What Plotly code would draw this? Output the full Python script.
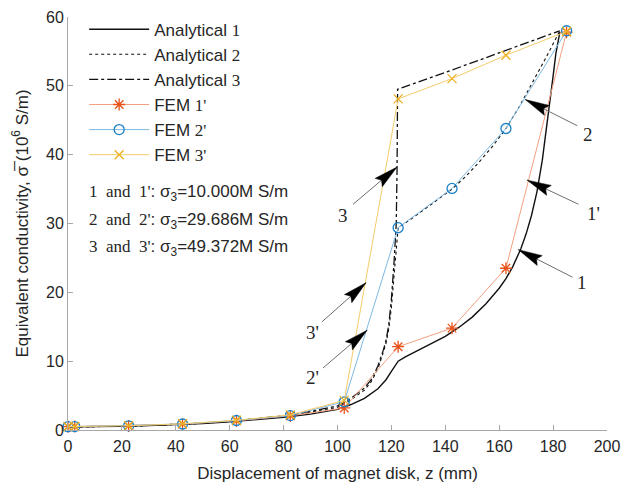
import math
import plotly.graph_objects as go

# ---------------- data ----------------
x_an1 = [0, 10, 20, 30, 40, 50, 60, 70, 80, 90, 95, 100, 105, 110, 115, 118, 120, 122.5,
         125, 130, 135, 140, 145, 150, 155, 160, 162.5, 165, 168, 170, 172, 174, 176, 178, 180, 181, 182, 182.5]
y_an1 = [0.45, 0.48, 0.55, 0.65, 0.78, 0.95, 1.2, 1.5, 1.85, 2.3, 2.6, 3.0, 3.7, 4.6, 6.0, 7.3, 8.5, 10.0,
         10.6, 11.6, 12.6, 13.6, 14.9, 16.4, 18.3, 20.6, 22.0, 23.7, 26.3, 28.5, 31.2, 34.6, 39.2, 45.0, 51.4, 54.6, 56.9, 57.8]

x_an2 = [0, 10, 20, 30, 40, 50, 60, 70, 80, 90, 100, 105, 110, 112.5, 115, 117, 118, 119, 120, 121, 122,
         122.5, 127.5, 132.5, 137.5, 142.5, 147.5, 152.5, 157.5, 162.5, 167.5, 172.5, 177.5, 182.5]
y_an2 = [0.45, 0.48, 0.55, 0.66, 0.8, 0.98, 1.25, 1.6, 2.0, 2.6, 3.3, 4.4, 5.8, 7.0, 8.9, 11.3, 12.6, 14.6, 17.8, 22.5, 27.5,
         29.4, 30.7, 32.1, 33.5, 35.0, 36.8, 38.9, 41.2, 43.8, 47.0, 50.5, 54.2, 58.0]

x_an3 = [0, 10, 20, 30, 40, 50, 60, 70, 80, 90, 100, 105, 110, 112.5, 115, 117, 118, 119, 120, 121, 121.8,
         122.1, 122.3, 142.5, 162.5, 182.5]
y_an3 = [0.45, 0.48, 0.56, 0.67, 0.82, 1.0, 1.28, 1.63, 2.05, 2.7, 3.5, 4.6, 6.1, 7.3, 9.3, 11.6, 13.0, 15.2, 19.0, 24.5, 30.0,
         38.0, 49.5, 52.3, 55.2, 58.0]

x_fem = [0, 2.5, 22.5, 42.5, 62.5, 82.5, 102.5, 122.5, 142.5, 162.5, 185]
y_fem1 = [0.48, 0.5, 0.58, 0.85, 1.35, 2.05, 3.2, 12.1, 14.8, 23.5, 57.8]
y_fem2 = [0.48, 0.5, 0.6, 0.87, 1.38, 2.1, 4.1, 29.4, 35.1, 43.8, 58.0]
y_fem3 = [0.5, 0.52, 0.62, 0.9, 1.42, 2.2, 4.3, 48.1, 51.05, 54.45, 57.9]

x_ticks = [0, 20, 40, 60, 80, 100, 120, 140, 160, 180, 200]
y_ticks = [0, 10, 20, 30, 40, 50, 60]

arrow_labels = ["1", "1'", "2", "2'", "3", "3'"]
arrow_tail = [(187.2, 22.2), (189.4, 32.8), (189.0, 44.2), (94.6, 9.0), (105.8, 32.8), (94.2, 15.7)]
arrow_tip = [(167.1, 26.2), (170.4, 36.3), (169.7, 48.0), (111.0, 14.5), (122.1, 38.2), (110.6, 21.4)]
label_pos = [(190.9, 21.4), (195.0, 31.5), (192.8, 42.9), (90.9, 7.6), (102.0, 31.1), (90.9, 14.1)]

case_labels = ["1\u00a0\u00a0and\u00a0\u00a01'", "2\u00a0\u00a0and\u00a0\u00a02'", "3\u00a0\u00a0and\u00a0\u00a03'"]
case_sigma = ["10.000", "29.686", "49.372"]

# ---------------- style ----------------
W, H = 633, 483
ML, MR, MT, MB = 68, 26, 17, 53
SANS = "Liberation Sans, Arial, sans-serif"
SERIF = "Liberation Serif, Times New Roman, serif"
TXT = "#262626"
AX = "#a8a8a8"


def serif(s):
    return f"<span style='font-family:{SERIF}'>{s}</span>"


fig = go.Figure()
fig.add_trace(go.Scatter(x=x_an1, y=y_an1, mode="lines", name="Analytical " + serif("1"),
                         line=dict(color="#111111", width=1.4)))
fig.add_trace(go.Scatter(x=x_an2, y=y_an2, mode="lines", name="Analytical " + serif("2"),
                         line=dict(color="#111111", width=1.1, dash="dot")))
fig.add_trace(go.Scatter(x=x_an3, y=y_an3, mode="lines", name="Analytical " + serif("3"),
                         line=dict(color="#111111", width=1.3, dash="dashdot")))
fig.add_trace(go.Scatter(x=x_fem, y=y_fem1, mode="lines+markers", name="FEM " + serif("1'"),
                         line=dict(color="#f2a07e", width=1), cliponaxis=False,
                         marker=dict(symbol="asterisk-open", size=10, color="#e8531b",
                                     line=dict(color="#e8531b", width=1.3))))
fig.add_trace(go.Scatter(x=x_fem, y=y_fem2, mode="lines+markers", name="FEM " + serif("2'"),
                         line=dict(color="#7fb8e2", width=1), cliponaxis=False,
                         marker=dict(symbol="circle-open", size=10, color="#1a80c8",
                                     line=dict(color="#1a80c8", width=1.3))))
fig.add_trace(go.Scatter(x=x_fem, y=y_fem3, mode="lines+markers", name="FEM " + serif("3'"),
                         line=dict(color="#f4cb6a", width=1), cliponaxis=False,
                         marker=dict(symbol="x-thin-open", size=9, color="#edb120",
                                     line=dict(color="#edb120", width=1.3))))

plot_w = W - ML - MR
plot_h = H - MT - MB
sx = plot_w / (x_ticks[-1] - x_ticks[0])
sy = plot_h / (y_ticks[-1] - y_ticks[0])

shapes = []
annotations = []
HEAD_L, HEAD_W = 24, 5.5
for lab, tail, tip, lp in zip(arrow_labels, arrow_tail, arrow_tip, label_pos):
    shapes.append(dict(type="line", xref="x", yref="y", x0=tail[0], y0=tail[1], x1=tip[0], y1=tip[1],
                       line=dict(color="#6e6e6e", width=1)))
    dx = (tip[0] - tail[0]) * sx
    dy = (tip[1] - tail[1]) * sy
    n = math.hypot(dx, dy)
    ux, uy = dx / n, dy / n
    nx, ny = -uy, ux
    p1 = (-HEAD_L * ux + HEAD_W * nx, -HEAD_L * uy + HEAD_W * ny)
    p2 = (-0.85 * HEAD_L * ux, -0.85 * HEAD_L * uy)
    p3 = (-HEAD_L * ux - HEAD_W * nx, -HEAD_L * uy - HEAD_W * ny)
    path = f"M0,0 L{p1[0]:.2f},{p1[1]:.2f} L{p2[0]:.2f},{p2[1]:.2f} L{p3[0]:.2f},{p3[1]:.2f} Z"
    shapes.append(dict(type="path", xref="x", yref="y", xsizemode="pixel", ysizemode="pixel",
                       xanchor=tip[0], yanchor=tip[1], path=path,
                       fillcolor="#000000", line=dict(color="#000000", width=0.5)))
    annotations.append(dict(x=lp[0], y=lp[1], xref="x", yref="y", text=lab, showarrow=False,
                            font=dict(family=SERIF, size=19, color=TXT)))

case_y = [34.4, 30.4, 26.5]
for cl, sg, yy in zip(case_labels, case_sigma, case_y):
    annotations.append(dict(x=7.2, y=yy, xref="x", yref="y", xanchor="left", showarrow=False,
                            text=serif(cl) + ": σ<sub>3</sub>=" + sg + "M S/m",
                            font=dict(family=SANS, size=17, color=TXT)))

fig.update_layout(
    width=W, height=H,
    margin=dict(l=ML, r=MR, t=MT, b=MB, pad=0, autoexpand=False),
    paper_bgcolor="white", plot_bgcolor="white",
    font=dict(family=SANS, color=TXT, size=16),
    showlegend=True,
    legend=dict(x=0.030, y=1.013, xanchor="left", yanchor="top", bgcolor="rgba(0,0,0,0)",
                itemwidth=60,
                font=dict(family=SANS, size=17, color=TXT), borderwidth=0),
    shapes=shapes,
    annotations=annotations,
)
fig.update_xaxes(range=[0, 200], tickvals=x_ticks, showgrid=False, zeroline=False, automargin=False,
                 showline=True, linecolor=AX, linewidth=1, ticks="inside", ticklen=5, tickcolor=AX,
                 tickfont=dict(size=16, color=TXT), ticklabelstandoff=2,
                 title=dict(text="Displacement of magnet disk, z (mm)", font=dict(size=17, color=TXT), standoff=13))
fig.update_yaxes(range=[0, 60], tickvals=y_ticks, showgrid=False, zeroline=False, automargin=False,
                 showline=True, linecolor=AX, linewidth=1, ticks="inside", ticklen=5, tickcolor=AX,
                 tickfont=dict(size=16, color=TXT),
                 title=dict(text="Equivalent conductivity, σ\u0305 (10<sup>6</sup> S/m)",
                            font=dict(size=17, color=TXT), standoff=13))

fig.write_html("out.html")
